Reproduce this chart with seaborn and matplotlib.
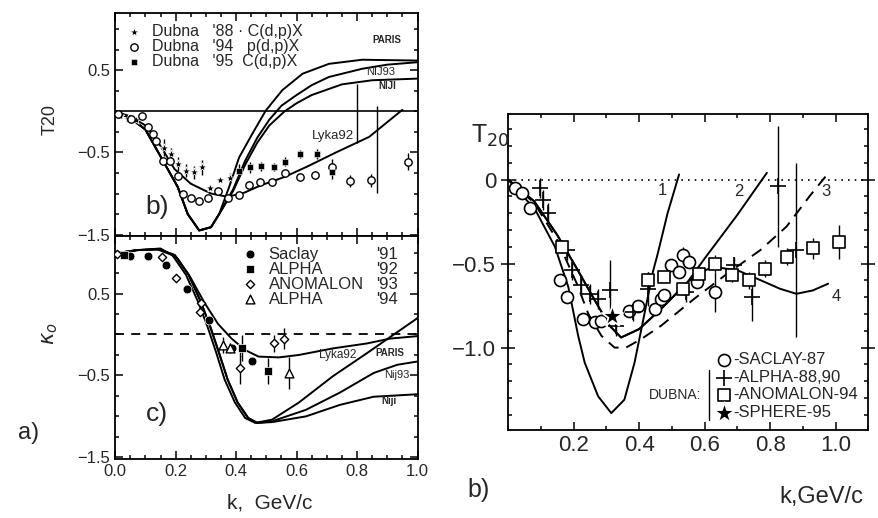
import matplotlib.pyplot as plt
import numpy as np
import pandas as pd
import seaborn as sns
from matplotlib.ticker import MultipleLocator, FixedLocator

sns.set_style("ticks")
plt.rcParams["font.family"] = ["Liberation Sans", "DejaVu Sans"]
plt.rcParams["mathtext.fontset"] = "dejavusans"

# ---------------- panel b (top left): T20 for d p -> p X ----------------
paris_k = [0.0, 0.05, 0.1, 0.152, 0.207, 0.24, 0.278, 0.317, 0.344, 0.377, 0.41, 0.454, 0.498, 0.553, 0.62, 0.707, 0.817, 1.0]
paris_t = [0.0, -0.08, -0.22, -0.56, -0.92, -1.25, -1.45, -1.41, -1.25, -0.92, -0.56, -0.27, 0.01, 0.26, 0.46, 0.58, 0.63, 0.62]
nij93_k = [0.0, 0.05, 0.1, 0.152, 0.207, 0.24, 0.278, 0.317, 0.344, 0.39, 0.43, 0.47, 0.51, 0.55, 0.60, 0.65, 0.707, 0.817, 0.9, 1.0]
nij93_t = [0.0, -0.08, -0.22, -0.56, -0.92, -1.25, -1.45, -1.41, -1.25, -0.95, -0.6, -0.32, -0.1, 0.07, 0.2, 0.32, 0.42, 0.52, 0.57, 0.6]
nij1_k = [0.0, 0.05, 0.1, 0.152, 0.207, 0.24, 0.278, 0.317, 0.344, 0.39, 0.43, 0.47, 0.51, 0.56, 0.60, 0.65, 0.75, 0.85, 1.0]
nij1_t = [0.0, -0.08, -0.22, -0.56, -0.92, -1.25, -1.45, -1.41, -1.25, -0.97, -0.65, -0.38, -0.17, 0.0, 0.1, 0.2, 0.33, 0.38, 0.4]
lyka_k = [0.0, 0.05, 0.1, 0.15, 0.196, 0.25, 0.317, 0.372, 0.427, 0.482, 0.559, 0.636, 0.73, 0.84, 0.95]
lyka_t = [0.0, -0.06, -0.17, -0.42, -0.7, -0.88, -1.0, -1.04, -0.99, -0.9, -0.8, -0.67, -0.5, -0.31, 0.02]

d88_k = [0.015, 0.042, 0.07, 0.163, 0.185, 0.207, 0.234, 0.26, 0.286, 0.315, 0.348, 0.38]
d88_t = [-0.05, -0.09, -0.1, -0.44, -0.52, -0.64, -0.72, -0.74, -0.68, -0.93, -0.83, -0.81]
d88_e = [0.0, 0.0, 0.0, 0.1, 0.08, 0.08, 0.08, 0.08, 0.09, 0.0, 0.0, 0.06]
d94_k = [0.01, 0.053, 0.09, 0.108, 0.124, 0.135, 0.157, 0.18, 0.207, 0.223, 0.251, 0.278, 0.308,
         0.339, 0.372, 0.408, 0.443, 0.48, 0.52, 0.561, 0.61, 0.66, 0.718, 0.777, 0.845, 0.968]
d94_t = [-0.03, -0.09, -0.05, -0.19, -0.27, -0.36, -0.6, -0.6, -0.79, -1.01, -1.05, -1.09, -1.06,
         -0.97, -1.05, -1.02, -0.9, -0.86, -0.86, -0.75, -0.8, -0.78, -0.68, -0.85, -0.84, -0.61]
d94_e = [0, 0, 0, 0, 0, 0, 0, 0, 0, 0, 0, 0, 0, 0, 0, 0, 0, 0, 0, 0, 0, 0.04, 0.1, 0.07, 0.08, 0.1]
d95_k = [0.41, 0.447, 0.482, 0.524, 0.561, 0.612, 0.667, 0.718]
d95_t = [-0.72, -0.68, -0.67, -0.68, -0.61, -0.52, -0.52, -0.74]
d95_e = [0.08, 0.07, 0.05, 0.05, 0.05, 0.05, 0.06, 0.08]
wide_k = [0.8, 0.865]
wide_t = [-0.03, -0.46]
wide_e = [0.36, 0.53]

# ---------------- panel c (bottom left): kappa0 ----------------
kparis_k = [0.0, 0.072, 0.139, 0.189, 0.234, 0.273, 0.306, 0.335, 0.362, 0.396, 0.43, 0.463, 0.519, 0.608, 0.72, 0.832, 0.91, 1.0]
kparis_v = [0.99, 1.03, 1.04, 0.97, 0.73, 0.41, 0.09, -0.23, -0.55, -0.83, -1.02, -1.08, -1.04, -0.83, -0.51, -0.23, -0.03, 0.2]
knij93_k = [0.0, 0.072, 0.145, 0.197, 0.243, 0.282, 0.315, 0.344, 0.372, 0.405, 0.44, 0.47, 0.519, 0.631, 0.743, 0.855, 0.933, 1.0]
knij93_v = [0.99, 1.03, 1.04, 0.97, 0.73, 0.41, 0.09, -0.23, -0.55, -0.83, -1.02, -1.08, -1.06, -0.92, -0.71, -0.47, -0.37, -0.33]
knij1_k = [0.0, 0.072, 0.145, 0.197, 0.243, 0.282, 0.315, 0.344, 0.372, 0.405, 0.44, 0.47, 0.519, 0.631, 0.743, 0.855, 1.0]
knij1_v = [0.99, 1.03, 1.04, 0.97, 0.73, 0.41, 0.09, -0.23, -0.55, -0.83, -1.02, -1.08, -1.07, -1.0, -0.86, -0.76, -0.73]
klyka_k = [0.0, 0.072, 0.15, 0.206, 0.25, 0.295, 0.34, 0.385, 0.43, 0.474, 0.541, 0.608, 0.72, 0.832, 0.91, 1.0]
klyka_v = [0.99, 1.03, 1.05, 0.93, 0.69, 0.39, 0.13, -0.05, -0.19, -0.27, -0.28, -0.25, -0.17, -0.11, -0.05, -0.02]

sac91_k = [0.049, 0.11, 0.167, 0.239, 0.312, 0.385, 0.452]
sac91_v = [0.96, 0.96, 0.85, 0.55, 0.18, -0.17, -0.33]
alp92_k = [0.03, 0.418, 0.504]
alp92_v = [0.97, -0.17, -0.45]
alp92_e = [0.0, 0.16, 0.16]
ano93_k = [0.005, 0.155, 0.2, 0.279, 0.284, 0.413, 0.525, 0.558]
ano93_v = [0.98, 0.95, 0.69, 0.27, 0.39, -0.41, -0.11, -0.05]
ano93_e = [0, 0, 0, 0, 0, 0.2, 0.1, 0.13]
alp94_k = [0.357, 0.38, 0.575]
alp94_v = [-0.13, -0.17, -0.47]
alp94_e = [0.1, 0.06, 0.2]

# ---------------- right panel b): T20 ----------------
c1_k = [0.0, 0.083, 0.143, 0.184, 0.214, 0.234, 0.275, 0.315, 0.355, 0.386, 0.411, 0.442, 0.457, 0.487, 0.522]
c1_t = [0.0, -0.18, -0.4, -0.64, -0.93, -1.09, -1.29, -1.39, -1.31, -1.09, -0.85, -0.55, -0.44, -0.2, 0.03]
c2_k = [0.0, 0.08, 0.15, 0.21, 0.265, 0.31, 0.345, 0.40, 0.467, 0.548, 0.60, 0.70, 0.79]
c2_t = [0.0, -0.13, -0.33, -0.53, -0.72, -0.87, -0.94, -0.89, -0.77, -0.61, -0.47, -0.21, 0.04]
c3_k = [0.0, 0.08, 0.15, 0.21, 0.245, 0.285, 0.325, 0.36, 0.406, 0.467, 0.568, 0.669, 0.77, 0.85, 0.92, 0.97]
c3_t = [0.0, -0.14, -0.36, -0.62, -0.8, -0.93, -1.0, -1.0, -0.95, -0.87, -0.71, -0.56, -0.42, -0.28, -0.1, 0.02]
c4_k = [0.0, 0.08, 0.15, 0.21, 0.265, 0.31, 0.345, 0.40, 0.467, 0.548, 0.588, 0.628, 0.70, 0.76, 0.83, 0.88, 0.93, 0.977]
c4_t = [0.0, -0.13, -0.33, -0.53, -0.72, -0.87, -0.94, -0.89, -0.77, -0.61, -0.55, -0.52, -0.54, -0.59, -0.65, -0.68, -0.66, -0.62]

sac87_k = [0.022, 0.042, 0.068, 0.159, 0.179, 0.229, 0.265, 0.285, 0.37, 0.396, 0.447, 0.467,
           0.477, 0.497, 0.522, 0.533, 0.553, 0.578, 0.633]
sac87_t = [-0.05, -0.08, -0.17, -0.6, -0.7, -0.83, -0.85, -0.84, -0.78, -0.75, -0.77, -0.71,
           -0.69, -0.51, -0.55, -0.45, -0.49, -0.61, -0.67]
sac87_e = [0, 0, 0, 0, 0, 0, 0, 0, 0, 0, 0, 0, 0, 0, 0, 0.05, 0, 0, 0.12]
alpha_k = [0.098, 0.108, 0.123, 0.179, 0.194, 0.224, 0.25, 0.275, 0.31, 0.33, 0.381, 0.426, 0.542, 0.689, 0.745, 0.825, 0.88]
alpha_t = [-0.05, -0.12, -0.2, -0.42, -0.54, -0.63, -0.68, -0.71, -0.66, -0.87, -0.79, -0.65, -0.67, -0.51, -0.7, -0.04, -0.42]
alpha_e = [0.06, 0.06, 0.06, 0.06, 0.06, 0.06, 0.06, 0.06, 0.18, 0.06, 0.05, 0.1, 0.06, 0.05, 0.14, 0.36, 0.52]
anom_k = [0.164, 0.426, 0.477, 0.533, 0.583, 0.633, 0.684, 0.734, 0.785, 0.85, 0.93, 1.01]
anom_t = [-0.4, -0.6, -0.58, -0.65, -0.56, -0.5, -0.57, -0.6, -0.53, -0.46, -0.41, -0.37]
anom_e = [0.04, 0.05, 0.03, 0.04, 0.04, 0.05, 0.04, 0.05, 0.05, 0.05, 0.06, 0.1]
sphere_k = [0.318]
sphere_t = [-0.815]


fig = plt.figure(figsize=(8.79, 5.18), dpi=100)
ax_t = fig.add_axes([0.131, 0.544, 0.344, 0.431])
ax_c = fig.add_axes([0.131, 0.114, 0.344, 0.430])
ax_r = fig.add_axes([0.578, 0.170, 0.410, 0.610])


def style_frame(ax, size):
    for sp in ax.spines.values():
        sp.set_linewidth(1.3)
        sp.set_color("black")
    ax.tick_params(which="both", direction="in", top=True, right=True,
                   color="black", width=1.1, labelsize=size)
    ax.tick_params(which="major", length=6)
    ax.tick_params(which="minor", length=3)
    ax.set_xlabel("")
    ax.set_ylabel("")


def curve(ax, k, v, ls="-"):
    sns.lineplot(x=k, y=v, ax=ax, color="black", lw=1.4, ls=ls,
                 sort=False, estimator=None)


def errs(ax, k, v, e):
    ax.errorbar(k, v, yerr=e, fmt="none", ecolor="black", elinewidth=1.0, capsize=0)


# ---- top left
for k, v in [(paris_k, paris_t), (nij93_k, nij93_t), (nij1_k, nij1_t), (lyka_k, lyka_t)]:
    curve(ax_t, k, v)
ax_t.axhline(0, color="black", lw=1.2)
errs(ax_t, d88_k, d88_t, d88_e)
errs(ax_t, d94_k, d94_t, d94_e)
errs(ax_t, d95_k, d95_t, d95_e)
errs(ax_t, wide_k, wide_t, wide_e)
sns.scatterplot(x=d88_k, y=d88_t, ax=ax_t, marker="*", s=45, color="black",
                label="Dubna   '88 · C(d,p)X", zorder=3)
sns.scatterplot(x=d94_k, y=d94_t, ax=ax_t, marker="o", s=28, facecolor="white",
                edgecolor="black", linewidth=1.0, label="Dubna   '94   p(d,p)X", zorder=3)
sns.scatterplot(x=d95_k, y=d95_t, ax=ax_t, marker="s", s=22, color="black",
                label="Dubna   '95  C(d,p)X", zorder=3)
ax_t.set_xlim(0, 1.0)
ax_t.set_ylim(-1.52, 1.2)
style_frame(ax_t, 12)
ax_t.xaxis.set_major_locator(MultipleLocator(0.2))
ax_t.xaxis.set_minor_locator(MultipleLocator(0.05))
ax_t.set_xticklabels([])
ax_t.yaxis.set_major_locator(FixedLocator([-1.5, -0.5, 0.5]))
ax_t.yaxis.set_minor_locator(MultipleLocator(0.25))
ax_t.legend(loc="upper left", frameon=False, fontsize=11.5, handletextpad=0.6,
            labelspacing=0.0, borderaxespad=0.3, handlelength=1.0)
ax_t.text(0.85, 0.83, "PARIS", fontsize=7, fontweight="bold")
ax_t.text(0.83, 0.45, "NIJ93", fontsize=8)
ax_t.text(0.87, 0.27, "NIJI", fontsize=7, fontweight="bold")
ax_t.text(0.65, -0.33, "Lyka92", fontsize=9.5)
ax_t.text(0.1, 0.1, "b)", fontsize=19, transform=ax_t.transAxes)

# ---- bottom left
for k, v in [(kparis_k, kparis_v), (knij93_k, knij93_v), (knij1_k, knij1_v), (klyka_k, klyka_v)]:
    curve(ax_c, k, v)
ax_c.axhline(0, color="black", lw=1.3, ls=(0, (5, 4)))
errs(ax_c, alp92_k, alp92_v, alp92_e)
errs(ax_c, ano93_k, ano93_v, ano93_e)
errs(ax_c, alp94_k, alp94_v, alp94_e)
sns.scatterplot(x=sac91_k, y=sac91_v, ax=ax_c, marker="o", s=40, color="black",
                label="Saclay", zorder=3)
sns.scatterplot(x=alp92_k, y=alp92_v, ax=ax_c, marker="s", s=40, color="black",
                label="ALPHA", zorder=3)
sns.scatterplot(x=ano93_k, y=ano93_v, ax=ax_c, marker="D", s=18, facecolor="white",
                edgecolor="black", linewidth=1.0, label="ANOMALON", zorder=3)
sns.scatterplot(x=alp94_k, y=alp94_v, ax=ax_c, marker="^", s=40, facecolor="white",
                edgecolor="black", linewidth=1.0, label="ALPHA", zorder=3)
ax_c.set_xlim(0, 1.0)
ax_c.set_ylim(-1.52, 1.2)
style_frame(ax_c, 12)
ax_c.xaxis.set_major_locator(MultipleLocator(0.2))
ax_c.xaxis.set_minor_locator(MultipleLocator(0.05))
ax_c.xaxis.set_major_formatter(plt.FormatStrFormatter("%.1f"))
ax_c.yaxis.set_major_locator(FixedLocator([-1.5, -0.5, 0.5]))
ax_c.yaxis.set_minor_locator(MultipleLocator(0.25))
leg_c = ax_c.legend(loc="upper left", bbox_to_anchor=(0.37, 1.02), frameon=False,
                    fontsize=12, handletextpad=0.6, labelspacing=0.0, handlelength=1.0)
ax_c.text(0.675, -0.29, "Lyka92", fontsize=8.5)
ax_c.text(0.86, -0.26, "PARIS", fontsize=7, fontweight="bold")
ax_c.text(0.89, -0.53, "Nij93", fontsize=8)
ax_c.text(0.88, -0.85, "Niji", fontsize=7, fontweight="bold")
ax_c.text(0.1, 0.17, "c)", fontsize=19, transform=ax_c.transAxes)

# ---- right panel
for k, v, ls in [(c1_k, c1_t, "-"), (c2_k, c2_t, "-"), (c3_k, c3_t, (0, (6, 4))), (c4_k, c4_t, "-")]:
    curve(ax_r, k, v, ls)
ax_r.axhline(0, color="black", lw=1.2, ls=(0, (1, 3)))
errs(ax_r, sac87_k, sac87_t, sac87_e)
errs(ax_r, alpha_k, alpha_t, alpha_e)
errs(ax_r, anom_k, anom_t, anom_e)
sns.scatterplot(x=sac87_k, y=sac87_t, ax=ax_r, marker="o", s=75, facecolor="white",
                edgecolor="black", linewidth=1.2, label="-SACLAY-87", zorder=3)
sns.scatterplot(x=alpha_k, y=alpha_t, ax=ax_r, marker="+", s=140, color="black",
                linewidth=1.2, label="-ALPHA-88,90", zorder=3)
sns.scatterplot(x=anom_k, y=anom_t, ax=ax_r, marker="s", s=65, facecolor="white",
                edgecolor="black", linewidth=1.2, label="-ANOMALON-94", zorder=3)
sns.scatterplot(x=sphere_k, y=sphere_t, ax=ax_r, marker="*", s=260, color="black",
                label="-SPHERE-95", zorder=4)
ax_r.set_xlim(0, 1.1)
ax_r.set_ylim(-1.49, 0.39)
style_frame(ax_r, 16)
ax_r.tick_params(axis="y", which="major", direction="inout", length=10)
ax_r.xaxis.set_major_locator(FixedLocator([0.2, 0.4, 0.6, 0.8, 1.0]))
ax_r.xaxis.set_major_formatter(plt.FormatStrFormatter("%.1f"))
ax_r.xaxis.set_minor_locator(MultipleLocator(0.1))
ax_r.yaxis.set_major_locator(FixedLocator([-1.0, -0.5, 0.0]))
ax_r.yaxis.set_major_formatter(plt.FuncFormatter(lambda v, p: "0" if v == 0 else "\u2212%.1f" % abs(v)))
ax_r.yaxis.set_minor_locator(MultipleLocator(0.1))
leg_r = ax_r.legend(loc="lower right", bbox_to_anchor=(1.0, 0.0), frameon=False,
                    fontsize=12, handletextpad=0.1, labelspacing=0.15, handlelength=1.0,
                    borderaxespad=0.2)
ax_r.text(0.457, -0.09, "1", fontsize=12)
ax_r.text(0.689, -0.10, "2", fontsize=12)
ax_r.text(0.957, -0.10, "3", fontsize=12)
ax_r.text(0.987, -0.72, "4", fontsize=12)

# figure-level labels
fig.text(0.057, 0.77, "T20", rotation=90, fontsize=13, ha="center", va="center")
fig.text(0.057, 0.355, r"$\kappa_o$", rotation=90, fontsize=15, ha="center", va="center")
fig.text(0.032, 0.165, "a)", fontsize=17, ha="center", va="center")
fig.text(0.307, 0.028, "k,  GeV/c", fontsize=15, ha="center", va="center")
fig.text(0.558, 0.738, r"T$_{20}$", fontsize=18, ha="center", va="center")
fig.text(0.544, 0.054, "b)", fontsize=18, ha="center", va="center")
fig.text(0.935, 0.04, "k,GeV/c", fontsize=17, ha="center", va="center")

# years column of the kappa legend and the DUBNA bracket
fig.canvas.draw()
inv_c = ax_c.transAxes.inverted()
for t, yr in zip(leg_c.get_texts(), ["'91", "'92", "'93", "'94"]):
    bb = t.get_window_extent()
    y = inv_c.transform((0, (bb.y0 + bb.y1) / 2))[1]
    ax_c.text(0.935, y, yr, fontsize=12, ha="right", va="center", transform=ax_c.transAxes)

inv_r = ax_r.transAxes.inverted()
texts = leg_r.get_texts()
lb = leg_r.get_window_extent()
x_left = inv_r.transform((lb.x0, 0))[0]
bb1 = texts[1].get_window_extent()
bb3 = texts[3].get_window_extent()
bb2 = texts[2].get_window_extent()
y_top = inv_r.transform((0, bb1.y1))[1]
y_bot = inv_r.transform((0, bb3.y0))[1]
y_mid = inv_r.transform((0, (bb2.y0 + bb2.y1) / 2))[1]
ax_r.plot([x_left, x_left], [y_bot, y_top], color="black", lw=1.0, transform=ax_r.transAxes)
ax_r.text(x_left - 0.02, y_mid, "DUBNA:", fontsize=10, ha="right", va="center",
          transform=ax_r.transAxes)

fig.savefig("out.png", dpi=100)
